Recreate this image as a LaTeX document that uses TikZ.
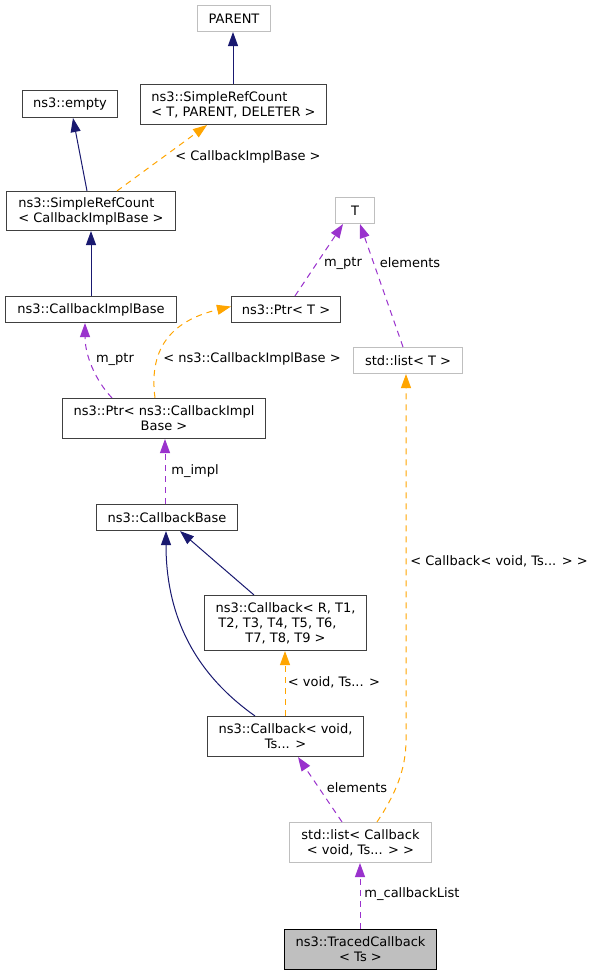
\documentclass[tikz,border=0pt]{standalone}
\usepackage{fontspec}
\setmainfont{DejaVu Sans}
\usetikzlibrary{arrows.meta}
\definecolor{navy}{HTML}{191970}
\definecolor{orng}{HTML}{FFA500}
\definecolor{purp}{HTML}{9A32CD}
\definecolor{bdr}{HTML}{404040}
\definecolor{gry}{HTML}{BFBFBF}
\begin{document}
\begin{tikzpicture}[x=1pt,y=-1pt,
  font=\fontsize{13}{15}\selectfont,
  box/.style={draw=bdr, line width=1.1pt, inner sep=0pt, fill=white, align=center},
  ubox/.style={box, draw=gry},
  lbl/.style={inner sep=0pt, anchor=center},
  inh/.style={draw=navy, line width=1pt, -{Triangle[length=14pt,width=10pt]}},
  tmpl/.style={draw=orng, line width=1pt, dash pattern=on 6pt off 5pt, -{Triangle[length=14pt,width=10pt,fill=orng]}},
  use/.style={draw=purp, line width=1pt, dash pattern=on 6pt off 5pt, -{Triangle[length=14pt,width=10pt,fill=purp]}}]
\useasboundingbox (0,0) rectangle (593,976);
\fill[white] (0,0) rectangle (593,976);

% nodes
\node[ubox, minimum width=73pt, minimum height=26pt] (parent) at (234,18.5) {PARENT};
\node[box, minimum width=186pt, minimum height=40pt, align=left] (srctpd) at (233.5,104.5) {ns3::SimpleRefCount\\< T, PARENT, DELETER >};
\node[box, minimum width=95pt, minimum height=27pt] (empty) at (70,104) {ns3::empty};
\node[box, minimum width=169pt, minimum height=39pt, align=left] (srccib) at (91,211) {ns3::SimpleRefCount\\< CallbackImplBase >};
\node[ubox, minimum width=39pt, minimum height=26pt] (T) at (355,210.5) {T};
\node[box, minimum width=171pt, minimum height=26pt] (cib) at (91,309.5) {ns3::CallbackImplBase};
\node[box, minimum width=109pt, minimum height=26pt] (ptrt) at (286,309.5) {ns3::Ptr< T >};
\node[ubox, minimum width=109pt, minimum height=26pt] (listt) at (408,360.5) {std::list< T >};
\node[box, minimum width=203pt, minimum height=40pt] (ptrcib) at (164,418.5) {ns3::Ptr< ns3::CallbackImpl\\Base >};
\node[box, minimum width=141pt, minimum height=26pt] (cbase) at (167,517.5) {ns3::CallbackBase};
\node[box, minimum width=162pt, minimum height=55pt] (cbr) at (285.5,623) {ns3::Callback< R, T1,\\T2, T3, T4, T5, T6,\makebox[16pt]{}\\T7, T8, T9 >};
\node[box, minimum width=156pt, minimum height=40pt] (cbv) at (285.5,736.5) {ns3::Callback< void,\\Ts... >};
\node[ubox, minimum width=142pt, minimum height=40pt] (listcb) at (360.5,842.5) {std::list< Callback\\< void, Ts... > >};
\node[box, draw=black, fill=gry, minimum width=152pt, minimum height=40pt] (traced) at (360.5,949.5) {ns3::TracedCallback\\< Ts >};

% labels
\node[lbl] (l1) at (248,157) {< CallbackImplBase >};
\node[lbl] (l2) at (343,263) {m\_ptr};
\node[lbl] (l3) at (410,263) {elements};
\node[lbl] (l4) at (115,359) {m\_ptr};
\node[lbl] (l5) at (252,359) {< ns3::CallbackImplBase >};
\node[lbl] (l6) at (195,471) {m\_impl};
\node[lbl] (l7) at (499,561) {< Callback< void, Ts... > >};
\node[lbl] (l8) at (334,682) {< void, Ts... >};
\node[lbl] (l9) at (357,788) {elements};
\node[lbl] (l10) at (412,894) {m\_callbackList};

% edges
\draw[inh] ([xshift=-0.5pt]srctpd.north) -- ([xshift=-1pt]parent.south);
\draw[inh] ([xshift=-4pt]srccib.north) -- ([xshift=3pt]empty.south);
\draw[tmpl] ([xshift=26pt]srccib.north) -- ([xshift=-26.5pt]srctpd.south);
\draw[inh] (cib.north) -- (srccib.south);
\draw[use] ([xshift=9pt]ptrt.north) -- ([xshift=-12pt]T.south);
\draw[use] ([xshift=-5pt]listt.north) -- ([xshift=5pt]T.south);
\draw[use] ([xshift=-52pt]ptrcib.north) .. controls (95,380) and (85,355) .. ([xshift=-6pt]cib.south);
\draw[tmpl] ([xshift=-9pt]ptrcib.north) .. controls (148,345) and (175,320) .. ([yshift=3pt]ptrt.west);
\draw[use] ([xshift=-2pt]cbase.north) -- ([xshift=1pt]ptrcib.south);
\draw[inh] ([xshift=-31.5pt]cbr.north) -- ([xshift=13pt]cbase.south);
\draw[inh] ([xshift=-30.5pt]cbv.north) .. controls (190,670) and (166,610) .. ([xshift=-1pt]cbase.south);
\draw[tmpl] ([xshift=-0.5pt]cbv.north) -- ([xshift=-0.5pt]cbr.south);
\draw[use] ([xshift=-18.5pt]listcb.north) -- ([xshift=12.5pt]cbv.south);
\coordinate (bend) at (406,740);
\draw[tmpl] ([xshift=16.5pt]listcb.north) .. controls (395,795) and (406,770) .. (bend) -- ([xshift=-2pt]listt.south);
\draw[use] ([xshift=-0.5pt]traced.north) -- ([xshift=-0.5pt]listcb.south);
\end{tikzpicture}
\end{document}
